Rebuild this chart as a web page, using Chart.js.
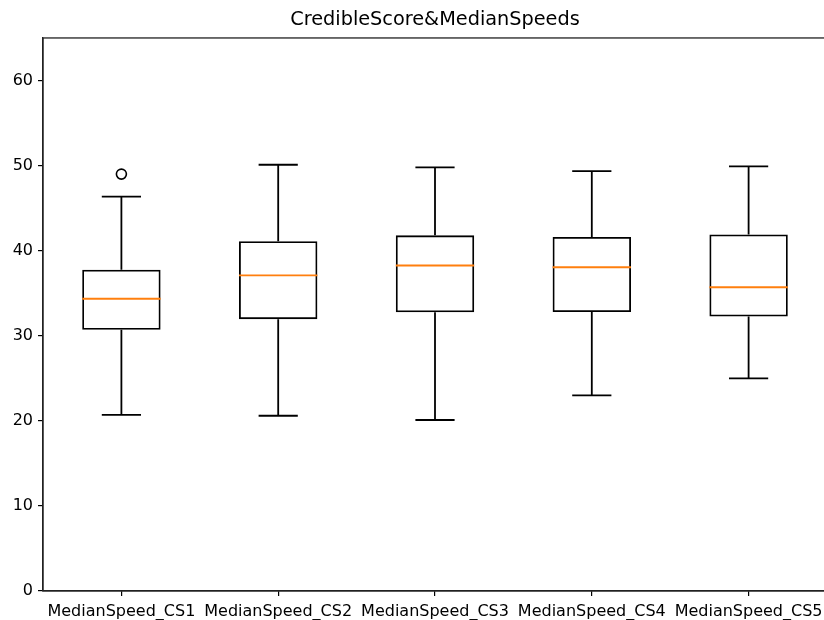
<!DOCTYPE html>
<html>
<head>
<meta charset="utf-8">
<title>CredibleScore&amp;MedianSpeeds</title>
<script src="https://cdn.jsdelivr.net/npm/chart.js@4.4.1/dist/chart.umd.min.js"></script>
<style>
  html, body { margin: 0; padding: 0; background: #fff; overflow: hidden; width: 824px; height: 620px; }
  canvas { display: block; }
</style>
</head>
<body>
<canvas id="chart" width="827" height="620"></canvas>
<script>
// Box-plot summary per credibility score group
const categories = ['MedianSpeed_CS1', 'MedianSpeed_CS2', 'MedianSpeed_CS3', 'MedianSpeed_CS4', 'MedianSpeed_CS5'];
const whiskerLow  = [20.7, 20.6, 20.1, 23.0, 25.0];
const quartile1   = [30.7, 31.95, 32.75, 32.8, 32.25];
const medians     = [34.35, 37.1, 38.25, 38.05, 35.7];
const quartile3   = [37.75, 41.1, 41.8, 41.6, 41.9];
const whiskerHigh = [46.35, 50.1, 49.8, 49.35, 49.9];
const outliers    = [49.0, null, null, null, null];
const yTicks      = [0, 10, 20, 30, 40, 50, 60];

const boxes = categories.map((_, i) => [quartile1[i], quartile3[i]]);

// Whiskers, caps and median lines drawn on top of the box bars
const boxExtras = {
  id: 'boxExtras',
  afterDatasetsDraw(chart) {
    const { ctx, scales: { x, y } } = chart;
    const step = x.getPixelForValue(1) - x.getPixelForValue(0);
    const capHalf = step * 0.125;
    const boxHalf = step * 0.25;
    ctx.save();
    ctx.lineCap = 'butt';
    categories.forEach((_, i) => {
      const cx = x.getPixelForValue(i);
      ctx.strokeStyle = '#000';
      ctx.lineWidth = 1.8;
      ctx.beginPath();
      ctx.moveTo(cx, y.getPixelForValue(quartile3[i]));
      ctx.lineTo(cx, y.getPixelForValue(whiskerHigh[i]));
      ctx.moveTo(cx, y.getPixelForValue(quartile1[i]));
      ctx.lineTo(cx, y.getPixelForValue(whiskerLow[i]));
      ctx.moveTo(cx - capHalf, y.getPixelForValue(whiskerHigh[i]));
      ctx.lineTo(cx + capHalf, y.getPixelForValue(whiskerHigh[i]));
      ctx.moveTo(cx - capHalf, y.getPixelForValue(whiskerLow[i]));
      ctx.lineTo(cx + capHalf, y.getPixelForValue(whiskerLow[i]));
      ctx.stroke();
      ctx.strokeStyle = '#ff7f0e';
      ctx.lineWidth = 1.9;
      ctx.beginPath();
      ctx.moveTo(cx - boxHalf, y.getPixelForValue(medians[i]));
      ctx.lineTo(cx + boxHalf, y.getPixelForValue(medians[i]));
      ctx.stroke();
    });
    ctx.restore();
  }
};

// Frame around the plotting area
const frame = {
  id: 'frame',
  afterDraw(chart) {
    const { ctx, chartArea: a } = chart;
    ctx.save();
    ctx.strokeStyle = '#222';
    ctx.lineWidth = 1.3;
    ctx.strokeRect(a.left, a.top, a.right - a.left, a.bottom - a.top);
    ctx.restore();
  }
};

new Chart(document.getElementById('chart'), {
  data: {
    labels: categories,
    datasets: [
      {
        type: 'bar',
        data: boxes,
        backgroundColor: 'rgba(0,0,0,0)',
        borderColor: '#000',
        borderWidth: 1.8,
        borderSkipped: false,
        barPercentage: 0.5,
        categoryPercentage: 1.0
      },
      {
        type: 'line',
        data: outliers,
        showLine: false,
        pointStyle: 'circle',
        pointRadius: 5,
        pointBackgroundColor: 'rgba(0,0,0,0)',
        pointBorderColor: '#000',
        pointBorderWidth: 1.6
      }
    ]
  },
  options: {
    responsive: false,
    animation: false,
    devicePixelRatio: 1,
    layout: { padding: 0, autoPadding: false },
    plugins: {
      legend: { display: false },
      tooltip: { enabled: false },
      title: {
        display: true,
        fullSize: false,
        text: 'CredibleScore&MedianSpeeds',
        color: '#000',
        font: { family: 'DejaVu Sans', size: 19.3, weight: 'normal', lineHeight: 1.2 },
        padding: { top: 8.4, bottom: 6.4 }
      }
    },
    scales: {
      x: {
        type: 'category',
        offset: true,
        grid: { display: true, offset: false, drawOnChartArea: false, drawTicks: true, tickLength: 5, color: '#000', lineWidth: 1.2 },
        border: { display: true, color: '#222', width: 1.3 },
        ticks: {
          color: '#000',
          font: { family: 'DejaVu Sans', size: 16 },
          padding: 6,
          maxRotation: 0,
          autoSkip: false
        },
        afterFit(scale) {
          scale.height = 29;
          scale.paddingLeft = 0;
          scale.paddingRight = 0;
        }
      },
      y: {
        type: 'linear',
        min: 0,
        max: 65,
        grid: { display: true, drawOnChartArea: false, drawTicks: true, tickLength: 5, color: '#000', lineWidth: 1.2 },
        border: { display: true, color: '#222', width: 1.3 },
        ticks: {
          color: '#000',
          font: { family: 'DejaVu Sans', size: 16 },
          padding: 5,
          stepSize: 10
        },
        afterBuildTicks(scale) { scale.ticks = yTicks.map(v => ({ value: v })); },
        afterFit(scale) {
          scale.width = 43;
          scale.paddingTop = 0;
          scale.paddingBottom = 0;
        }
      }
    }
  },
  plugins: [boxExtras, frame]
});
</script>
</body>
</html>
